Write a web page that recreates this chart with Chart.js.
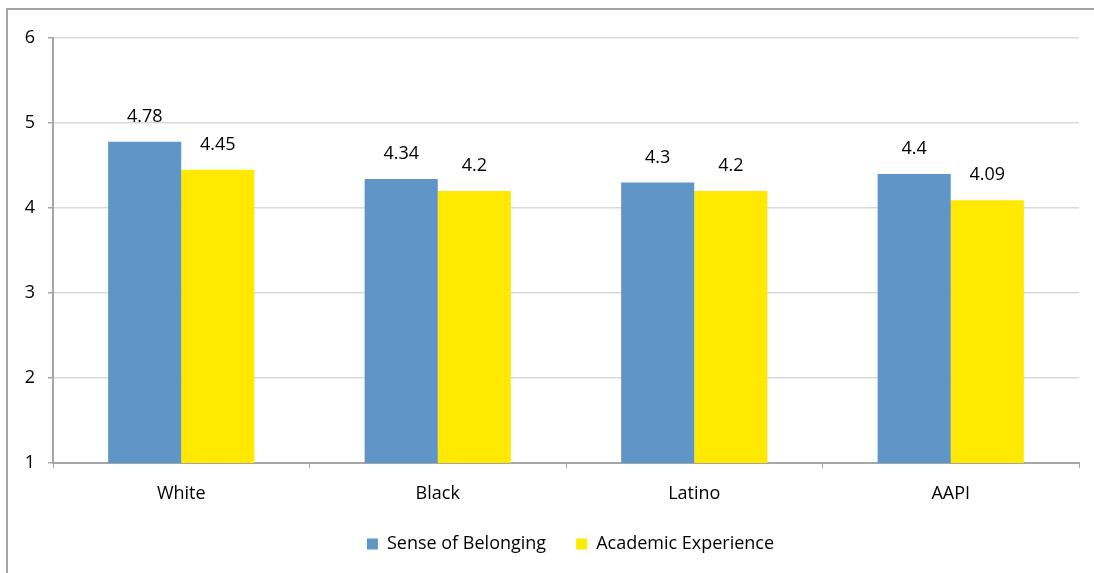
<!DOCTYPE html>
<html><head><meta charset="utf-8">
<script src="https://cdn.jsdelivr.net/npm/chart.js@4/dist/chart.umd.min.js"></script>
<style>
html,body{margin:0;padding:0;background:#fff;overflow:hidden}
#wrap{position:absolute;left:0;top:0;width:1094px;height:573px}
#frame{position:absolute;left:6px;top:8px;width:1200px;height:700px;border:2px solid #a3a3a3;box-sizing:border-box}
canvas{position:absolute;left:0;top:0}
</style></head>
<body><div id="wrap"><div id="frame"></div><canvas id="c" width="1094" height="573"></canvas></div>
<script>
const categories = ["White", "Black", "Latino", "AAPI"];
const belonging = [4.78, 4.34, 4.3, 4.4];
const academic = [4.45, 4.2, 4.2, 4.09];
const seriesNames = ["Sense of Belonging", "Academic Experience"];
const yTicks = [1, 2, 3, 4, 5, 6];

const FONT = "'Open Sans', 'Noto Sans', sans-serif";
const FS = 18;
const labelPlugin = {
  id: 'vals',
  afterLayout(chart) {
    const lg = chart.legend;
    if (lg) { lg.left += 31; lg.right += 31; lg.top -= 8; lg.bottom -= 8; }
  },
  afterDatasetsDraw(chart) {
    const ctx = chart.ctx;
    ctx.save();
    ctx.font = FS + "px " + FONT;
    ctx.fillStyle = "#000";
    ctx.textAlign = "center";
    ctx.textBaseline = "middle";
    chart.data.datasets.forEach((ds, i) => {
      chart.getDatasetMeta(i).data.forEach((bar, j) => {
        ctx.fillText(String(ds.data[j]), bar.x, bar.y - 25);
      });
    });
    ctx.restore();
  }
};

new Chart(document.getElementById('c'), {
  type: 'bar',
  data: {
    labels: categories,
    datasets: [
      {label: seriesNames[0], data: belonging, backgroundColor: '#6095c8', categoryPercentage: 0.57, barPercentage: 1.0},
      {label: seriesNames[1], data: academic, backgroundColor: '#ffe900', categoryPercentage: 0.57, barPercentage: 1.0}
    ]
  },
  options: {
    responsive: false,
    animation: false,
    devicePixelRatio: 1,
    layout: {padding: {left: 0, right: 15, top: 38, bottom: 2}},
    plugins: {
      tooltip: {enabled: false},
      legend: {
        position: 'bottom',
        labels: {boxWidth: 11, boxHeight: 11, padding: 30, color: '#000', font: {family: FONT, size: FS},
          generateLabels(chart) {
            return chart.data.datasets.map((ds, i) => ({text: ds.label, fillStyle: ds.backgroundColor, strokeStyle: ds.backgroundColor, lineWidth: 0, datasetIndex: i, hidden: false, fontColor: '#000'}));
          }
        }
      }
    },
    scales: {
      x: {
        grid: {drawOnChartArea: false, drawTicks: true, tickLength: 5, color: '#a6a6a6', offset: true},
        border: {color: '#a6a6a6', width: 2},
        ticks: {color: '#000', font: {family: FONT, size: FS}, padding: 15},
        afterFit(s) { s.height = 50; }
      },
      y: {
        min: 1, max: 6,
        afterBuildTicks(s) { s.ticks = yTicks.map(v => ({value: v})); },
        grid: {color: '#d9d9d9', tickColor: '#a6a6a6', tickLength: 5, lineWidth: 1.5},
        border: {color: '#a6a6a6', width: 2},
        ticks: {color: '#000', font: {family: FONT, size: FS}, padding: 13},
        afterFit(s) { s.width = 53; }
      }
    }
  },
  plugins: [labelPlugin]
});
</script></body></html>
